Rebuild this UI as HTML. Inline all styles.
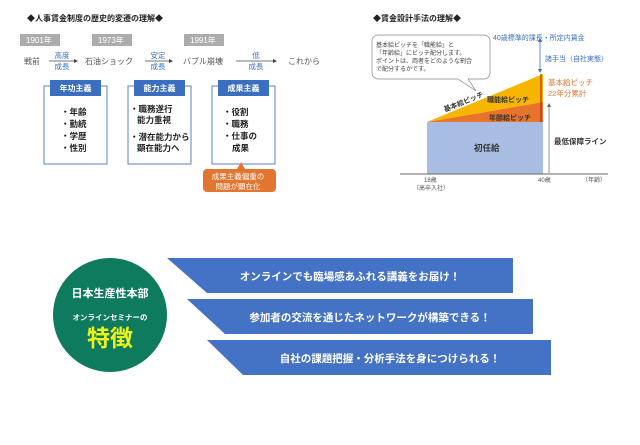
<!DOCTYPE html>
<html><head><meta charset="utf-8"><style>
body{margin:0;width:640px;height:440px;background:#fff;overflow:hidden;font-family:"Liberation Sans","Noto Sans CJK JP",sans-serif}
</style></head><body>
<svg width="640" height="440" xmlns="http://www.w3.org/2000/svg" font-family="Liberation Sans, Noto Sans CJK JP, sans-serif">
<!-- Left -->
<text x="27" y="21" font-size="8" font-weight="bold" fill="#222">◆人事賃金制度の歴史的変遷の理解◆</text>
<g font-size="8" fill="#fff">
<rect x="20" y="34" width="40" height="12" fill="#acacac"/><text x="26" y="43">1901年</text>
<rect x="92" y="34" width="40" height="12" fill="#acacac"/><text x="98" y="43">1973年</text>
<rect x="184" y="34" width="40" height="12" fill="#acacac"/><text x="190" y="43">1991年</text>
</g>
<g font-size="8" fill="#555">
<text x="24" y="64">戦前</text><text x="85" y="64">石油ショック</text><text x="183" y="64">バブル崩壊</text><text x="288" y="64">これから</text>
</g>
<g font-size="7.5" fill="#3a6fc0" text-anchor="middle">
<text x="62" y="58">高度</text><text x="62" y="69">成長</text>
<text x="158" y="58">安定</text><text x="158" y="69">成長</text>
<text x="256" y="58">低</text><text x="256" y="69">成長</text>
</g>
<g stroke="#444" stroke-width="0.8">
<line x1="49" y1="61" x2="75" y2="61"/><line x1="145" y1="61" x2="170" y2="61"/><line x1="236" y1="61" x2="274" y2="61"/>
</g>
<g fill="#444"><path d="M78 61l-4-2v4z"/><path d="M173 61l-4-2v4z"/><path d="M277 61l-4-2v4z"/></g>
<g fill="none" stroke="#5b82c8" stroke-width="1">
<rect x="44" y="86" width="63" height="78"/><rect x="128" y="86" width="63" height="78"/><rect x="212" y="86" width="63" height="78"/>
</g>
<g fill="#3a6fc0"><rect x="50" y="80" width="51" height="16"/><rect x="134" y="80" width="51" height="16"/><rect x="218" y="80" width="51" height="16"/></g>
<g font-size="8" fill="#fff" text-anchor="middle" font-weight="bold">
<text x="75.5" y="91">年功主義</text><text x="159.5" y="91">能力主義</text><text x="243.5" y="91">成果主義</text>
</g>
<g font-size="8.5" fill="#222" font-weight="bold">
<text x="61" y="115">・年齢</text><text x="61" y="127">・勤続</text><text x="61" y="139">・学歴</text><text x="61" y="151">・性別</text>
<text x="130" y="112">・職務遂行</text><text x="137" y="123">能力重視</text><text x="130" y="140">・潜在能力から</text><text x="137" y="151">顕在能力へ</text>
<text x="223" y="115">・役割</text><text x="223" y="127">・職務</text><text x="223" y="139">・仕事の</text><text x="232" y="151">成果</text>
</g>
<path d="M203 169h34l4-7 4 7h27a4 4 0 0 1 4 4v15a4 4 0 0 1-4 4h-65a4 4 0 0 1-4-4v-15a4 4 0 0 1 4-4z" fill="#e2752f"/>
<g font-size="7.5" fill="#fff" text-anchor="middle"><text x="238" y="179">成果主義偏重の</text><text x="238" y="189">問題が顕在化</text></g>
<!-- Right -->
<text x="373" y="21" font-size="8" font-weight="bold" fill="#222">◆賃金設計手法の理解◆</text>
<path d="M378 35h106a6 6 0 0 1 6 6v32a6 6 0 0 1-6 6h-16l8 12-18-12h-80a6 6 0 0 1-6-6v-32a6 6 0 0 1 6-6z" fill="#fff" stroke="#888" stroke-width="0.7"/>
<g font-size="6" fill="#444"><text x="376" y="47">基本給ピッチを「職能給」と</text><text x="376" y="55">「年齢給」にピッチ配分します。</text><text x="376" y="63">ポイントは、両者をどのような割合</text><text x="376" y="71">で配分するかです。</text></g>
<rect x="427" y="122" width="116" height="52" fill="#a9bde3"/>
<polygon points="427,122 543,102 543,122" fill="#e8742c"/>
<polygon points="427,122 543,74 543,102" fill="#f7b500"/>
<line x1="541" y1="74" x2="541" y2="122" stroke="#c0221b" stroke-width="1.2"/>
<line x1="400" y1="174" x2="608" y2="174" stroke="#666" stroke-width="1"/>
<line x1="540" y1="40" x2="540" y2="72" stroke="#3a6fc0" stroke-width="0.8"/>
<path d="M540 38l-2 4h4z M540 73l-2-4h4z" fill="#3a6fc0"/>
<line x1="549" y1="105" x2="549" y2="173" stroke="#666" stroke-width="0.7"/>
<path d="M549 103l-2 4h4z" fill="#666"/>
<g font-size="7" fill="#3a6fc0"><text x="493" y="40">40歳標準的課長・所定内賃金</text><text x="545" y="61">諸手当（自社実態）</text></g>
<g font-size="7.5" fill="#e2752f"><text x="548" y="85">基本給ピッチ</text><text x="548" y="96">22年分累計</text></g>
<g font-size="7" font-weight="bold" fill="#333"><text x="487" y="102">職能給ピッチ</text><text x="489" y="120">年齢給ピッチ</text>
<text x="445" y="112" transform="rotate(-22 445 112)">基本給ピッチ</text>
<text x="474" y="151" font-size="8.5">初任給</text><text x="554" y="144" font-size="7.5">最低保障ライン</text></g>
<g font-size="6" fill="#555"><text x="424" y="182">18歳</text><text x="413" y="190">（高卒入社）</text><text x="538" y="182">40歳</text><text x="582" y="182">（年齢）</text></g>
<!-- Bottom -->
<circle cx="110" cy="315" r="57" fill="#0f7b5e"/>
<text x="110" y="297" font-size="11" fill="#fff" text-anchor="middle" font-weight="bold">日本生産性本部</text>
<text x="110" y="320" font-size="7.5" fill="#fff" text-anchor="middle" font-weight="bold">オンラインセミナーの</text>
<text x="110" y="346" font-size="23" fill="#eef21a" text-anchor="middle" font-weight="bold">特徴</text>
<g fill="#4472c4">
<polygon points="167,258 513,258 513,293 207,293"/>
<polygon points="187,299 533,299 533,334 225,334"/>
<polygon points="207,340 551,340 551,375 243,375"/>
</g>
<g font-size="10.5" fill="#fff" font-weight="bold" text-anchor="middle">
<text x="350" y="280">オンラインでも臨場感あふれる講義をお届け！</text>
<text x="370" y="321">参加者の交流を通じたネットワークが構築できる！</text>
<text x="390" y="362">自社の課題把握・分析手法を身につけられる！</text>
</g>
</svg>
</body></html>
